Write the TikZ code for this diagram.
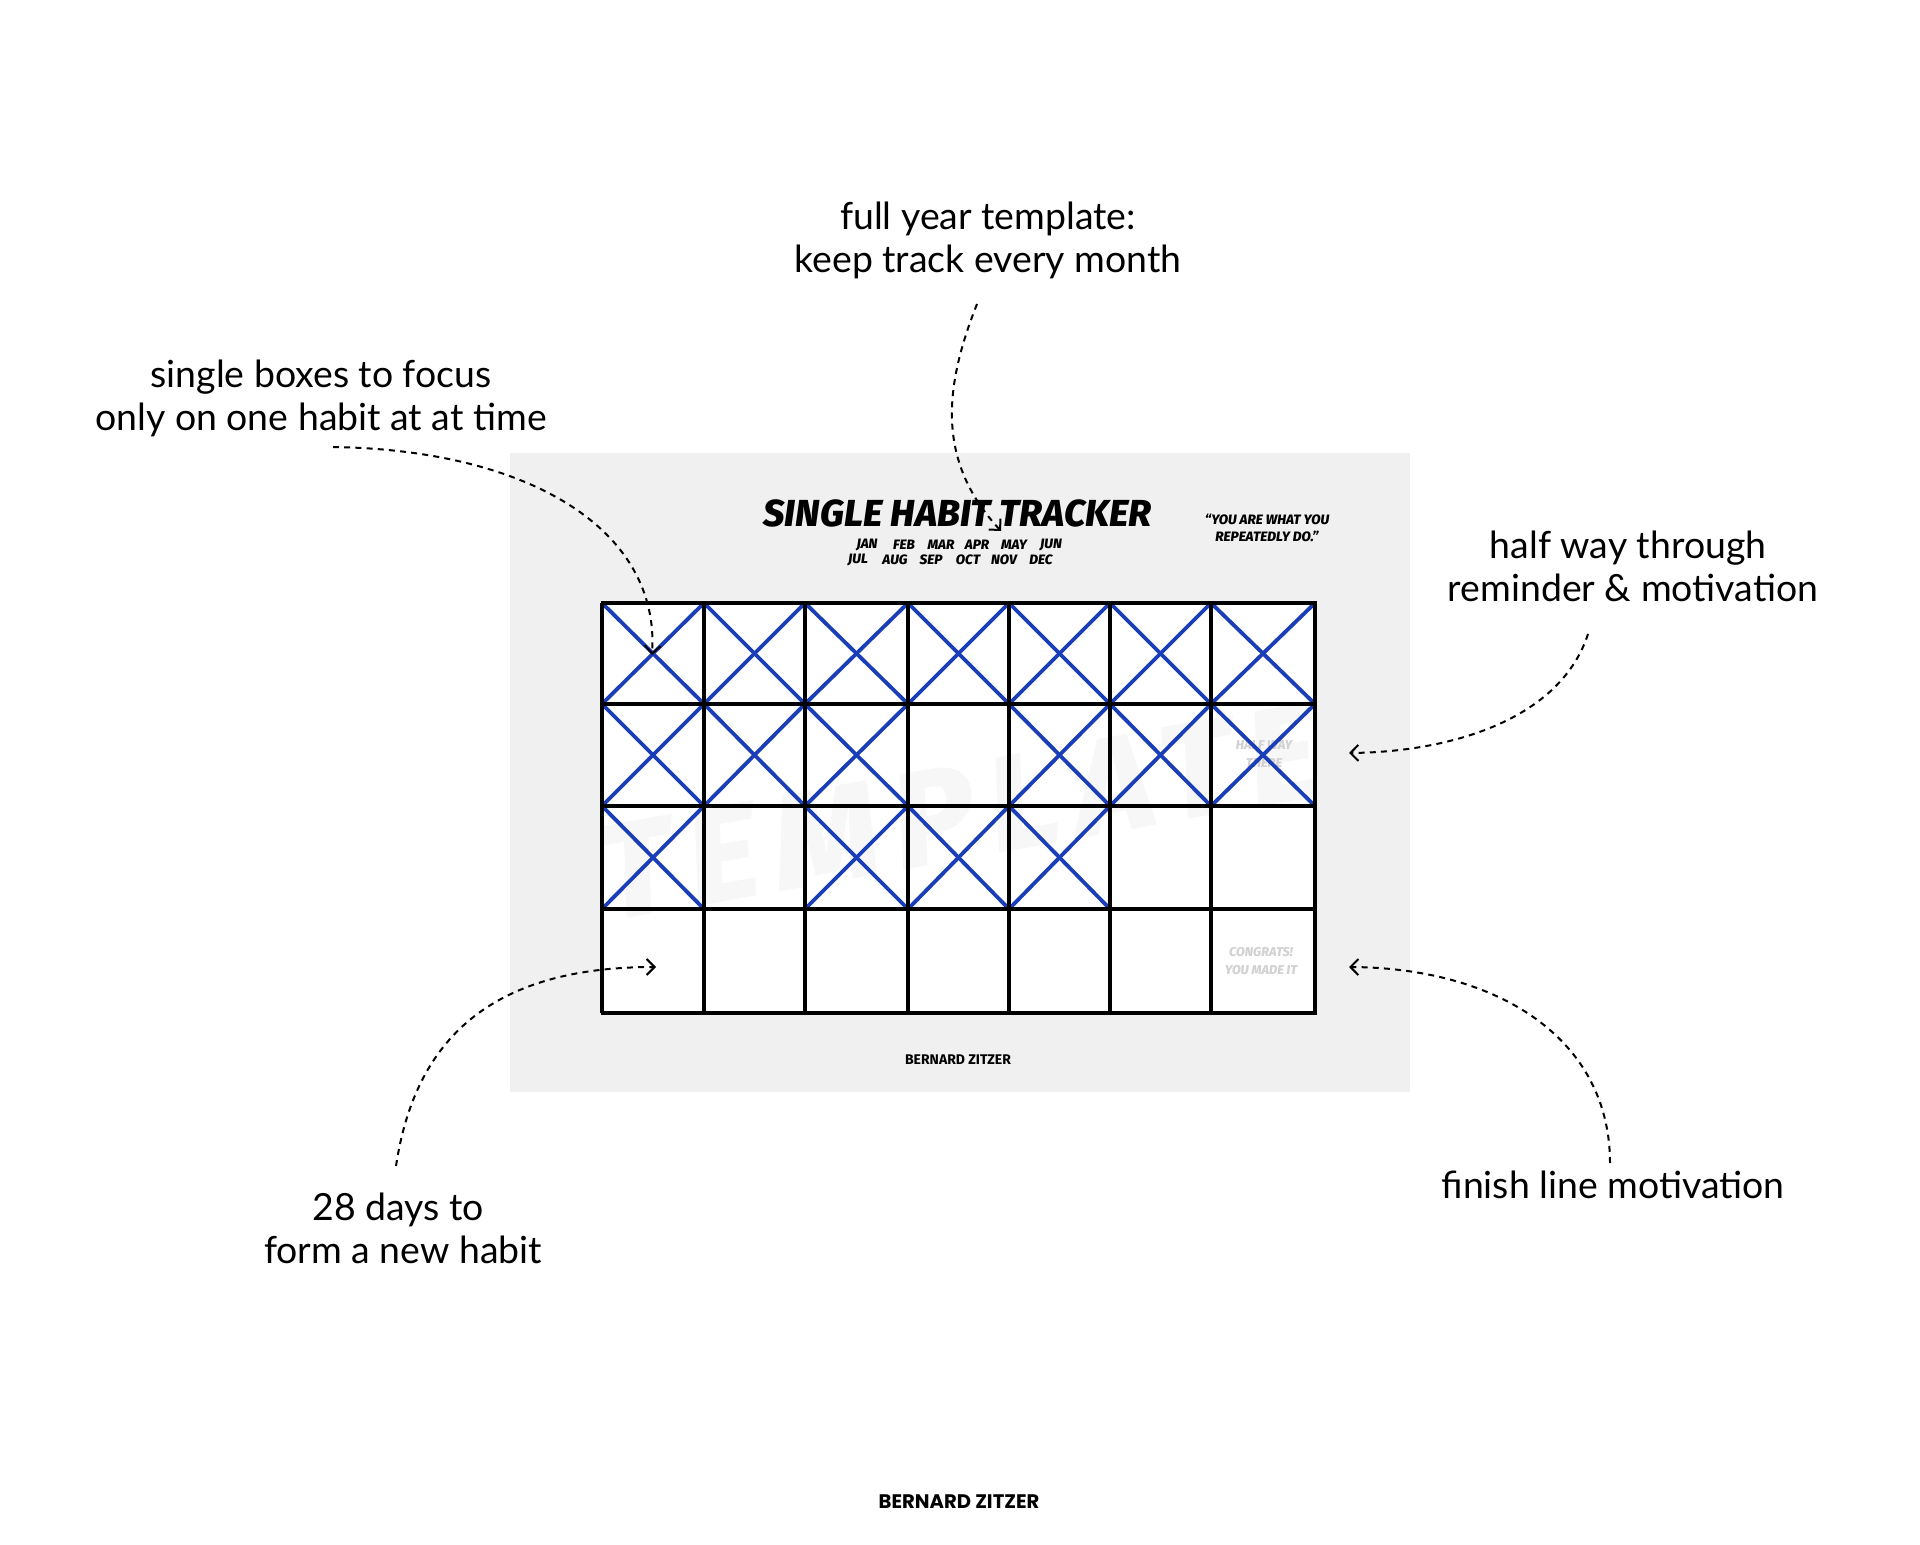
\documentclass[tikz,border=0pt]{standalone}
\usepackage{fontspec}
\usetikzlibrary{arrows.meta}
\setmainfont{Poppins}
\newfontfamily\notefont{Lato}
\newfontfamily\titlefont[BoldItalicFont={Fira Sans ExtraBold Italic}]{Fira Sans}
\newfontfamily\brandfont{Poppins}
\definecolor{sheet}{HTML}{F0F0F0}
\definecolor{mark}{HTML}{1A3DB8}
\definecolor{wm}{HTML}{F7F7F7}
\definecolor{ghost}{HTML}{D2D2D2}
\tikzset{
  notetext/.style={font=\notefont\fontsize{18.7}{21.5}\selectfont,align=center,inner sep=0,text=black},
  tracktext/.style={font=\titlefont\bfseries\itshape,inner sep=0,text=black},
  monthtext/.style={tracktext,font=\titlefont\bfseries\itshape\fontsize{6.8}{7}\selectfont},
  ghosttext/.style={font=\titlefont\bfseries\itshape\fontsize{6.4}{8}\selectfont,text=ghost,align=center,inner sep=0},
  gridline/.style={draw=black,line width=2pt},
  xmark/.style={draw=mark,line width=1.9pt},
  callout/.style={draw=black,line width=1pt,dash pattern=on 3pt off 2.6pt,-{Straight Barb[length=4pt,width=8pt,line width=1pt]}},
}
\begin{document}
\begin{tikzpicture}[x=0.5pt,y=-0.5pt]
\useasboundingbox (0,0) rectangle (1920,1545);
\fill[white] (0,0) rectangle (1920,1545);
\fill[sheet] (510,453) rectangle (1410,1092);
\fill[white] (602,603) rectangle (1315,1013);
% watermark
\node[inner sep=0,rotate=10,text=wm] (watermark) at (959,812)
  {\titlefont\fontspec{Fira Sans ExtraBold Italic}[LetterSpace=12]\fontsize{68}{70}\selectfont TEMPLATE};
% cell faint texts
\node[ghosttext] (halfway) at (1264,754) {HALF WAY\\[0.6pt]THERE};
\node[ghosttext] (congrats) at (1261,961) {CONGRATS!\\[0.6pt]YOU MADE IT};
% crosses
\foreach \xl/\xr/\yt/\yb in {
 602/704/603/704,704/805/603/704,805/908/603/704,908/1009/603/704,1009/1110/603/704,1110/1211/603/704,1211/1315/603/704,
 602/704/704/806,704/805/704/806,805/908/704/806,1009/1110/704/806,1110/1211/704/806,1211/1315/704/806,
 602/704/806/909,805/908/806/909,908/1009/806/909,1009/1110/806/909}
{ \draw[xmark] (\xl,\yt) -- (\xr,\yb); \draw[xmark] (\xl,\yb) -- (\xr,\yt); }
% grid
\foreach \gx in {602,704,805,908,1009,1110,1211,1315} \draw[gridline,line width=1.6pt] (\gx,603) -- (\gx,1013);
\foreach \gy in {603,704,806,909,1013} \draw[gridline] (600.5,\gy) -- (1316.5,\gy);
% sheet text
\node[tracktext,font=\titlefont\bfseries\itshape\fontsize{18.8}{20}\selectfont] (title) at (957.5,513) {SINGLE HABIT TRACKER};
\foreach \m/\px in {JAN/867,FEB/904,MAR/941,APR/977,MAY/1014,JUN/1051}
  \node[monthtext] (m\m) at (\px,545) {\m};
\foreach \m/\px in {JUL/858,AUG/895,SEP/931,OCT/968,NOV/1004,DEC/1041}
  \node[monthtext] (m\m) at (\px,560) {\m};
\node[monthtext,align=center] (quote) at (1267,528) {“YOU ARE WHAT YOU\\[1.5pt]REPEATEDLY DO.”};
\node[monthtext,font=\titlefont\bfseries\fontsize{7}{8}\selectfont] (sheetbrand) at (958,1060) {BERNARD ZITZER};
% notes
\node[notetext] (year) at (988,240) {full year template:\\keep track every month};
\node[notetext] (single) at (321,398) {single boxes to focus\\only on one habit at at time};
\node[notetext] (half) at (1633,566) {half way through\hspace*{5pt}\\reminder \& motivation};
\node[notetext] (finish) at (1613,1185) {finish line motivation};
\node[notetext] (days) at (403,1228) {28 days to\hspace*{5pt}\\form a new habit};
\node[font=\brandfont\bfseries\fontsize{9.8}{11}\selectfont,inner sep=0] (brand) at (959,1502) {BERNARD ZITZER};
% connector ends
\coordinate (yearS) at (977,304); \coordinate (yearE) at (1001,531);
\coordinate (singleS) at (333,447); \coordinate (singleE) at (652,655);
\coordinate (halfS) at (1588,634); \coordinate (halfE) at (1349,753);
\coordinate (finishS) at (1610,1163); \coordinate (finishE) at (1349,967);
\coordinate (daysS) at (396,1166); \coordinate (daysE) at (656,967);
\draw[callout] (yearS) .. controls (945,385) and (935,460) .. (yearE);
\draw[callout] (singleS) .. controls (530,450) and (660,530) .. (singleE);
\draw[callout] (halfS) .. controls (1560,720) and (1450,752) .. (halfE);
\draw[callout] (finishS) .. controls (1610,1040) and (1500,968) .. (finishE);
\draw[callout] (daysS) .. controls (415,1040) and (490,967) .. (daysE);
\end{tikzpicture}
\end{document}
